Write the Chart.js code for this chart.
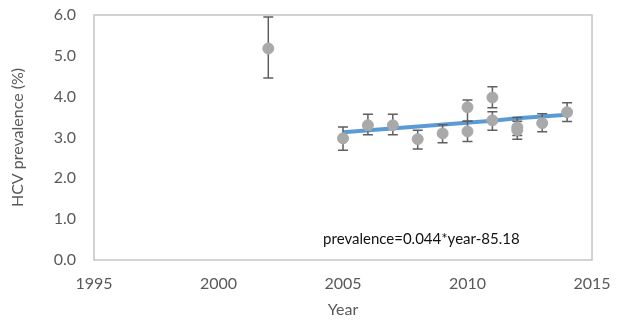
<!DOCTYPE html>
<html>
<head>
<meta charset="utf-8">
<script src="https://cdn.jsdelivr.net/npm/chart.js@4.4.0/dist/chart.umd.min.js"></script>
<style>
  html, body { margin: 0; padding: 0; background: #fff; }
  #wrap { width: 617px; height: 321px; }
</style>
</head>
<body>
<div id="wrap"><canvas id="hcvChart" width="617" height="321"></canvas></div>
<script>
// survey points (year, prevalence %) with CI bounds
const years     = [2002, 2005, 2006, 2007, 2008, 2009, 2010, 2010, 2011, 2011, 2012, 2012, 2013, 2014];
const prevalence = [5.18, 2.98, 3.30, 3.30, 2.96, 3.10, 3.74, 3.15, 3.98, 3.42, 3.25, 3.18, 3.35, 3.62];
const lowerCI   = [4.46, 2.69, 3.07, 3.07, 2.72, 2.87, 3.40, 2.90, 3.73, 3.18, 3.05, 2.96, 3.14, 3.39];
const upperCI   = [5.95, 3.26, 3.57, 3.57, 3.18, 3.31, 3.92, 3.40, 4.24, 3.63, 3.49, 3.40, 3.58, 3.85];

// fitted trend line
const trendYears = [2005, 2011, 2012, 2014];
const trendValues = [3.13, 3.41, 3.47, 3.56];

const xTicks = [1995, 2000, 2005, 2010, 2015];
const equationText = 'prevalence=0.044*year-85.18';

const textColor = '#595959';
const fontFamily = 'Lato, "Open Sans", sans-serif';

// draws the CI whiskers under the points
const errorBars = {
    id: 'errorBars',
    beforeDatasetDraw(chart, args) {
        if (args.index !== 0) return;
        const ctx = chart.ctx;
        const xs = chart.scales.x, ys = chart.scales.y;
        ctx.save();
        ctx.strokeStyle = '#5f5f5f';
        ctx.lineWidth = 1.5;
        years.forEach((yr, i) => {
            const px = xs.getPixelForValue(yr);
            const top = ys.getPixelForValue(upperCI[i]);
            const bot = ys.getPixelForValue(lowerCI[i]);
            ctx.beginPath();
            ctx.moveTo(px, top); ctx.lineTo(px, bot);
            ctx.moveTo(px - 5, top); ctx.lineTo(px + 5, top);
            ctx.moveTo(px - 5, bot); ctx.lineTo(px + 5, bot);
            ctx.stroke();
        });
        ctx.restore();
    }
};

// plot frame + regression equation
const frameAndLabel = {
    id: 'frameAndLabel',
    afterDraw(chart) {
        const ctx = chart.ctx;
        const a = chart.chartArea;
        ctx.save();
        ctx.strokeStyle = '#c4c4c4';
        ctx.lineWidth = 1.5;
        ctx.strokeRect(a.left, a.top, a.right - a.left, a.bottom - a.top);
        ctx.fillStyle = '#111';
        ctx.font = '15px ' + fontFamily;
        ctx.textBaseline = 'middle';
        ctx.textAlign = 'left';
        ctx.fillText(equationText, chart.scales.x.getPixelForValue(2004.2), chart.scales.y.getPixelForValue(0.52));
        ctx.restore();
    }
};

document.addEventListener('DOMContentLoaded', function () {
    const ctx = document.getElementById('hcvChart').getContext('2d');
    new Chart(ctx, {
        type: 'scatter',
        data: {
            datasets: [
                {
                    label: 'HCV prevalence',
                    data: years.map((yr, i) => ({ x: yr, y: prevalence[i] })),
                    backgroundColor: '#a9a9a9',
                    borderColor: '#a9a9a9',
                    pointRadius: 5.5,
                    pointHoverRadius: 5.5,
                    order: 0
                },
                {
                    label: 'trend',
                    type: 'line',
                    data: trendYears.map((yr, i) => ({ x: yr, y: trendValues[i] })),
                    borderColor: '#5b9bd5',
                    borderWidth: 4,
                    pointRadius: 0,
                    fill: false,
                    tension: 0,
                    order: 1
                }
            ]
        },
        options: {
            responsive: false,
            animation: false,
            events: [],
            layout: { padding: { top: 15, right: 25, left: 0, bottom: 0 } },
            plugins: {
                legend: { display: false },
                tooltip: { enabled: false }
            },
            scales: {
                x: {
                    type: 'linear',
                    min: 1995,
                    max: 2015,
                    afterBuildTicks: scale => { scale.ticks = xTicks.map(v => ({ value: v })); },
                    afterFit: scale => { scale.height = 61; scale.paddingLeft = 0; scale.paddingRight = 0; },
                    grid: { display: false },
                    border: { display: false },
                    ticks: { color: textColor, font: { family: fontFamily, size: 16 }, padding: 6, callback: v => String(v) },
                    title: { display: true, text: 'Year', color: textColor, font: { family: fontFamily, size: 16 }, padding: { top: 0, bottom: 2 } }
                },
                y: {
                    min: 0,
                    max: 6,
                    afterFit: scale => { scale.width = 94; scale.paddingTop = 0; scale.paddingBottom = 0; },
                    grid: { display: false },
                    border: { display: false },
                    ticks: {
                        stepSize: 1,
                        color: textColor,
                        font: { family: fontFamily, size: 16 },
                        padding: 10,
                        callback: v => Number(v).toFixed(1)
                    },
                    title: { display: true, text: 'HCV prevalence (%)', color: textColor, font: { family: fontFamily, size: 16 }, padding: { top: 8, bottom: 0 } }
                }
            }
        },
        plugins: [errorBars, frameAndLabel]
    });
});
</script>
</body>
</html>
